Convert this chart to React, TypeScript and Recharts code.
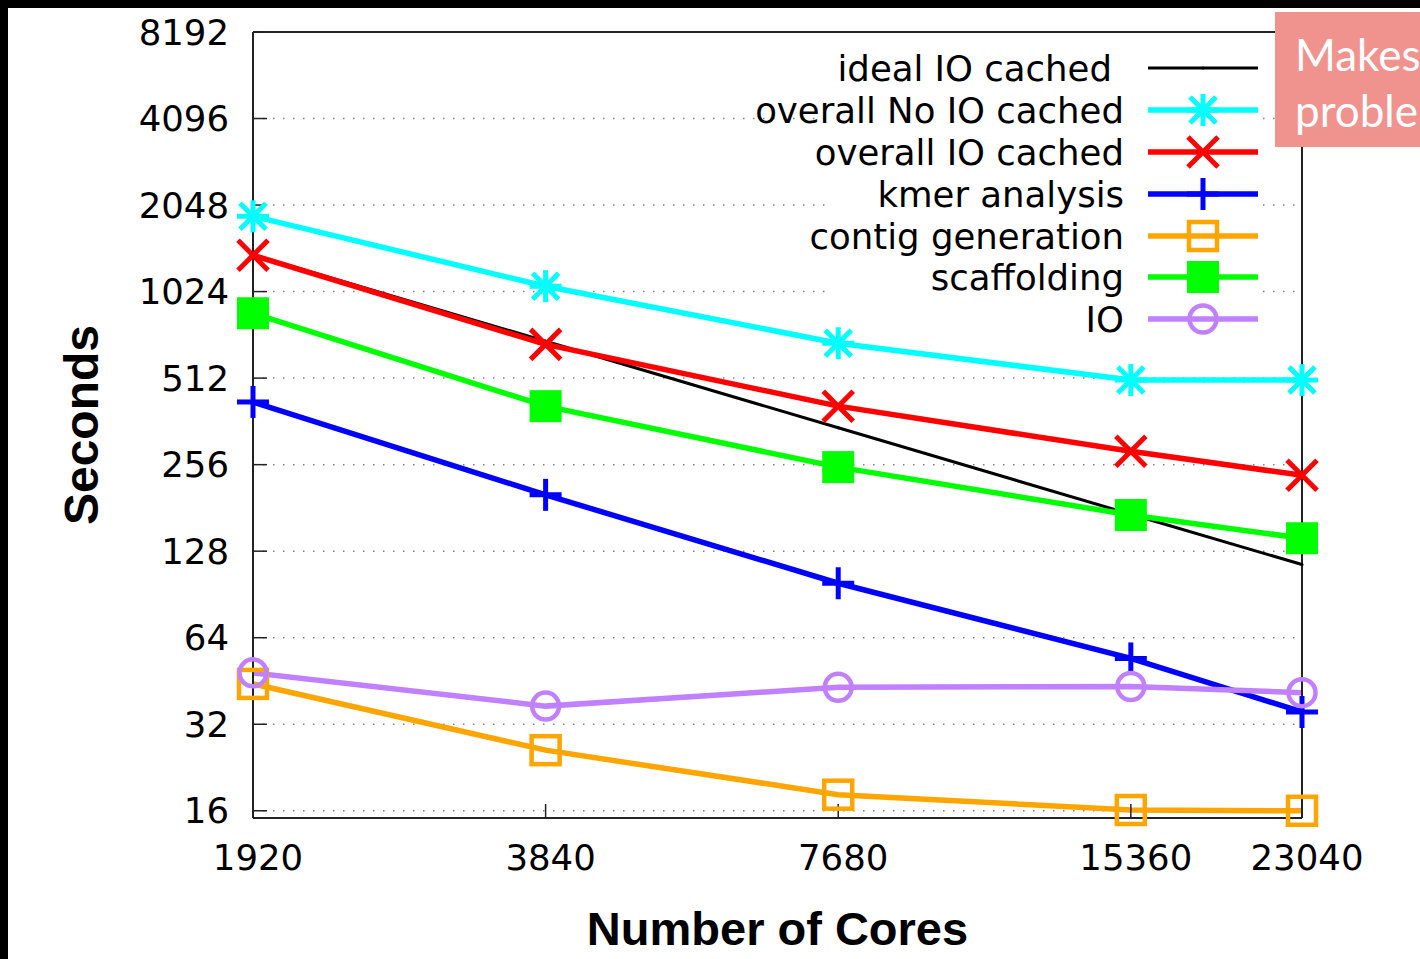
import React from 'react';
import { LineChart, Line, XAxis, YAxis, CartesianGrid } from 'recharts';

const cores = [1920, 3840, 7680, 15360, 23040];
const idealIOCached = [1375, 688, 344, 172, 115];
const overallNoIOCached = [1872, 1069, 677, 504, 504];
const overallIOCached = [1370, 671, 409, 285, 235];
const kmerAnalysis = [423, 201, 99, 54.2, 35.3];
const contigGeneration = [44.2, 26, 18.2, 16.1, 16];
const scaffolding = [861, 409, 251, 171, 142];
const ioTimes = [48.3, 37, 43, 43.3, 41.2];

const xTicks = [1920, 3840, 7680, 15360, 23040];
const yTicks = [16, 32, 64, 128, 256, 512, 1024, 2048, 4096, 8192];

type Shape = 'dot' | 'star' | 'x' | 'plus' | 'square' | 'fsquare' | 'circle';

const series: { key: string; name: string; color: string; shape: Shape; width: number }[] = [
  { key: 'ideal', name: 'ideal IO cached', color: '#000000', shape: 'dot', width: 3 },
  { key: 'noio', name: 'overall No IO cached', color: '#00FFFF', shape: 'star', width: 5.5 },
  { key: 'io_cached', name: 'overall IO cached', color: '#FF0000', shape: 'x', width: 5.5 },
  { key: 'kmer', name: 'kmer analysis', color: '#0000FF', shape: 'plus', width: 5.5 },
  { key: 'contig', name: 'contig generation', color: '#FFA500', shape: 'square', width: 5.5 },
  { key: 'scaff', name: 'scaffolding', color: '#00FF00', shape: 'fsquare', width: 5.5 },
  { key: 'io', name: 'IO', color: '#C080FF', shape: 'circle', width: 5.5 },
];

const data = cores.map((c, i) => ({
  cores: c,
  ideal: idealIOCached[i],
  noio: overallNoIOCached[i],
  io_cached: overallIOCached[i],
  kmer: kmerAnalysis[i],
  contig: contigGeneration[i],
  scaff: scaffolding[i],
  io: ioTimes[i],
}));

function Marker({ shape, color, cx, cy }: { shape: Shape; color: string; cx: number; cy: number }) {
  const sw = 5;
  switch (shape) {
    case 'dot':
      return <circle cx={cx} cy={cy} r={1.5} fill={color} />;
    case 'star':
      return (
        <g stroke={color} strokeWidth={sw}>
          <line x1={cx - 16} y1={cy} x2={cx + 16} y2={cy} />
          <line x1={cx} y1={cy - 16} x2={cx} y2={cy + 16} />
          <line x1={cx - 13} y1={cy - 13} x2={cx + 13} y2={cy + 13} />
          <line x1={cx - 13} y1={cy + 13} x2={cx + 13} y2={cy - 13} />
        </g>
      );
    case 'x':
      return (
        <g stroke={color} strokeWidth={sw}>
          <line x1={cx - 15} y1={cy - 15} x2={cx + 15} y2={cy + 15} />
          <line x1={cx - 15} y1={cy + 15} x2={cx + 15} y2={cy - 15} />
        </g>
      );
    case 'plus':
      return (
        <g stroke={color} strokeWidth={sw}>
          <line x1={cx - 16} y1={cy} x2={cx + 16} y2={cy} />
          <line x1={cx} y1={cy - 16} x2={cx} y2={cy + 16} />
        </g>
      );
    case 'square':
      return <rect x={cx - 14} y={cy - 14} width={28} height={28} fill="none" stroke={color} strokeWidth={4.5} />;
    case 'fsquare':
      return <rect x={cx - 16} y={cy - 16} width={32} height={32} fill={color} />;
    case 'circle':
      return <circle cx={cx} cy={cy} r={13.5} fill="none" stroke={color} strokeWidth={4.5} />;
  }
  return null;
}

const rowY = [68, 110, 152, 194, 236, 277, 319];

function KeyBox() {
  return (
    <g>
      <rect x={825} y={34} width={437} height={304} fill="#ffffff" />
      {series.map((s, i) => (
        <g key={s.key}>
          <text
            x={i === 0 ? 1112 : 1124}
            y={rowY[i]}
            textAnchor="end"
            dominantBaseline="central"
            fontFamily="DejaVu Sans"
            fontSize={35.5}
            fill="#000"
          >
            {s.name}
          </text>
          <line x1={1148} y1={rowY[i]} x2={1258} y2={rowY[i]} stroke={s.color} strokeWidth={s.width} />
          <Marker shape={s.shape} color={s.color} cx={1203} cy={rowY[i]} />
        </g>
      ))}
    </g>
  );
}

const tickFont = { fontFamily: 'DejaVu Sans', fontSize: 35.5, fill: '#000' };

export default function App() {
  return (
    <div style={{ position: 'absolute', left: 0, top: 0, width: 1420, height: 959, background: '#fff', overflow: 'hidden' }}>
      <LineChart
        width={1420}
        height={959}
        data={data}
        margin={{ top: 31, right: 117, left: 0, bottom: 0 }}
      >
        <CartesianGrid
          vertical={false}
          horizontal={true}
          stroke="#808080"
          strokeWidth={1.5}
          strokeDasharray="1.5 8.5"
          yAxisId="left"
          xAxisId="bottom"
        />
        <KeyBox />
        {series.map((s) => (
          <Line
            key={s.key}
            xAxisId="bottom"
            yAxisId="left"
            type="linear"
            dataKey={s.key}
            name={s.name}
            stroke={s.color}
            strokeWidth={s.width}
            isAnimationActive={false}
            dot={(p: any) => (
              <Marker key={`${s.key}-${p.index}`} shape={s.shape} color={s.color} cx={p.cx} cy={p.cy} />
            )}
            activeDot={false}
          />
        ))}
        <XAxis
          xAxisId="bottom"
          dataKey="cores"
          type="number"
          scale="log"
          domain={[1920, 23040]}
          ticks={xTicks}
          interval={0}
          height={141}
          tickSize={-14}
          tickMargin={41}
          tick={{ ...tickFont, dx: 5 }}
          axisLine={{ stroke: '#222', strokeWidth: 2 }}
          tickLine={{ stroke: '#222', strokeWidth: 1.5 }}
          label={{
            value: 'Number of Cores',
            content: (props: any) => {
              const vb = props.viewBox;
              return (
                <text
                  x={vb.x + vb.width / 2}
                  y={945}
                  textAnchor="middle"
                  fontFamily="Liberation Sans, Arial, sans-serif"
                  fontWeight="bold"
                  fontSize={47}
                  fill="#000"
                >
                  Number of Cores
                </text>
              );
            },
          }}
        />
        <XAxis
          xAxisId="top"
          orientation="top"
          dataKey="cores"
          type="number"
          scale="log"
          domain={[1920, 23040]}
          ticks={xTicks}
          interval={0}
          height={1}
          tickSize={-14}
          tick={false}
          axisLine={{ stroke: '#222', strokeWidth: 2 }}
          tickLine={{ stroke: '#222', strokeWidth: 1.5 }}
        />
        <YAxis
          yAxisId="left"
          type="number"
          scale="log"
          domain={[15.1, 8192]}
          ticks={yTicks}
          interval={0}
          width={253}
          tickSize={-14}
          tickMargin={38}
          tick={tickFont}
          axisLine={{ stroke: '#222', strokeWidth: 2 }}
          tickLine={{ stroke: '#222', strokeWidth: 1.5 }}
          label={{
            value: 'Seconds',
            content: (props: any) => {
              const vb = props.viewBox;
              const cy = vb.y + vb.height / 2;
              return (
                <text
                  x={81}
                  y={cy}
                  transform={`rotate(-90, 81, ${cy})`}
                  textAnchor="middle"
                  dominantBaseline="central"
                  fontFamily="Liberation Sans, Arial, sans-serif"
                  fontWeight="bold"
                  fontSize={48}
                  fill="#000"
                >
                  Seconds
                </text>
              );
            },
          }}
        />
        <YAxis
          yAxisId="right"
          orientation="right"
          type="number"
          scale="log"
          domain={[15.1, 8192]}
          ticks={yTicks}
          interval={0}
          width={1}
          tickSize={-14}
          tick={false}
          axisLine={{ stroke: '#222', strokeWidth: 2 }}
          tickLine={{ stroke: '#222', strokeWidth: 1.5 }}
        />
      </LineChart>
      <div style={{ position: 'absolute', left: 0, top: 0, width: 1420, height: 8, background: '#000' }} />
      <div style={{ position: 'absolute', left: 0, top: 0, width: 8, height: 959, background: '#000' }} />
      <div
        style={{
          position: 'absolute',
          left: 1275,
          top: 12,
          width: 145,
          height: 135,
          background: '#F0938F',
          overflow: 'hidden',
          color: '#fff',
          fontFamily: 'Lato, "Open Sans", sans-serif',
          fontSize: 44,
          lineHeight: '56px',
          whiteSpace: 'nowrap',
        }}
      >
        <div style={{ position: 'absolute', left: 20, top: 14 }}>Makes</div>
        <div style={{ position: 'absolute', left: 20, top: 70 }}>proble</div>
      </div>
    </div>
  );
}
